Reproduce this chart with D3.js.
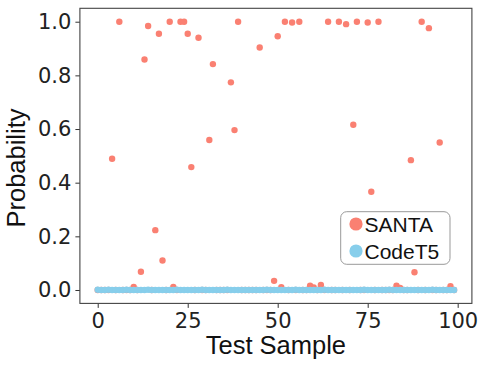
<!DOCTYPE html>
<html>
<head>
<meta charset="utf-8">
<script src="https://cdn.jsdelivr.net/npm/d3@7"></script>
<style>
  html, body { margin: 0; padding: 0; background: #fff; }
  svg { display: block; }
</style>
</head>
<body>
<svg id="chart" width="485" height="365"></svg>
<script>
// ---- data ----
const sampleIds = d3.range(100); // test sample indices 0..99
const santaValues = [
  0.000, 0.000, 0.000, 0.000, 0.489, 0.000, 1.000, 0.000, 0.000, 0.000,
  0.011, 0.000, 0.068, 0.859, 0.984, 0.000, 0.223, 0.955, 0.110, 0.000,
  1.000, 0.011, 0.000, 1.000, 1.000, 0.955, 0.458, 0.000, 0.940, 0.000,
  0.000, 0.559, 0.842, 0.000, 0.000, 0.000, 0.000, 0.774, 0.596, 1.000,
  0.000, 0.000, 0.000, 0.000, 0.000, 0.904, 0.000, 0.000, 0.000, 0.034,
  0.946, 0.010, 1.000, 0.000, 0.997, 0.000, 1.000, 0.000, 0.000, 0.016,
  0.009, 0.000, 0.019, 0.000, 1.000, 0.000, 0.000, 1.000, 0.000, 0.991,
  0.000, 0.616, 1.000, 0.000, 0.000, 0.997, 0.366, 0.000, 1.000, 0.000,
  0.000, 0.000, 0.000, 0.016, 0.008, 0.000, 0.000, 0.484, 0.066, 0.000,
  1.000, 0.000, 0.976, 0.000, 0.000, 0.550, 0.000, 0.000, 0.014, 0.000
];
const codet5Values = [
  0.001, 0.000, 0.000, 0.001, 0.000, 0.000, 0.000, 0.000, 0.001, 0.000,
  0.000, 0.000, 0.000, 0.000, 0.001, 0.000, 0.000, 0.000, 0.000, 0.000,
  0.000, 0.000, 0.001, 0.000, 0.000, 0.000, 0.000, 0.000, 0.000, 0.001,
  0.000, 0.000, 0.000, 0.000, 0.000, 0.000, 0.001, 0.000, 0.000, 0.000,
  0.000, 0.000, 0.000, 0.000, 0.000, 0.000, 0.000, 0.001, 0.000, 0.000,
  0.000, 0.000, 0.000, 0.000, 0.000, 0.001, 0.000, 0.000, 0.000, 0.000,
  0.000, 0.000, 0.000, 0.001, 0.000, 0.000, 0.000, 0.000, 0.000, 0.000,
  0.000, 0.000, 0.000, 0.000, 0.001, 0.000, 0.000, 0.000, 0.000, 0.000,
  0.000, 0.001, 0.000, 0.000, 0.000, 0.000, 0.000, 0.000, 0.000, 0.000,
  0.000, 0.000, 0.000, 0.001, 0.000, 0.000, 0.000, 0.000, 0.000, 0.000
];
const seriesNames = ["SANTA", "CodeT5"];
const seriesColors = ["#fa8072", "#87ceeb"];
const xTicks = [0, 25, 50, 75, 100];
const yTicks = [0.0, 0.2, 0.4, 0.6, 0.8, 1.0];
const xLabel = "Test Sample";
const yLabel = "Probability";

// ---- layout ----
const svg = d3.select("#chart");
const plotLeft = 79.9, plotRight = 471.9, plotTop = 8.3, plotBottom = 303.4;

const x = d3.scaleLinear().domain([-4.95, 103.95]).range([plotLeft, plotRight]);
const y = d3.scaleLinear().domain([-0.05, 1.05]).range([plotBottom, plotTop]);

const tickFont = "'DejaVu Sans', sans-serif";
const labelFont = "'Liberation Sans', Arial, sans-serif";

// points
const series = [santaValues, codet5Values];
series.forEach((vals, si) => {
  svg.append("g")
    .selectAll("circle")
    .data(vals.map((v, i) => ({ i: sampleIds[i], v })))
    .join("circle")
    .attr("cx", d => x(d.i))
    .attr("cy", d => y(d.v))
    .attr("r", 3.2)
    .attr("fill", seriesColors[si]);
});

// axes
const xAxis = d3.axisBottom(x).tickValues(xTicks).tickFormat(d3.format("d"))
  .tickSizeOuter(0).tickSizeInner(4.5).tickPadding(5);
const yAxis = d3.axisLeft(y).tickValues(yTicks).tickFormat(d3.format(".1f"))
  .tickSizeOuter(0).tickSizeInner(4.5).tickPadding(4);

const gx = svg.append("g").attr("transform", `translate(0,${plotBottom})`).call(xAxis);
const gy = svg.append("g").attr("transform", `translate(${plotLeft},0)`).call(yAxis);
[gx, gy].forEach(g => {
  g.select(".domain").remove();
  g.selectAll(".tick line").attr("stroke", "#333").attr("stroke-width", 1);
  g.selectAll(".tick text")
    .attr("fill", "#222")
    .style("font-family", tickFont)
    .style("font-size", "21px");
});

// frame
svg.append("rect")
  .attr("x", plotLeft).attr("y", plotTop)
  .attr("width", plotRight - plotLeft).attr("height", plotBottom - plotTop)
  .attr("fill", "none").attr("stroke", "#444").attr("stroke-width", 1.1);

// axis labels
svg.append("text")
  .attr("x", (plotLeft + plotRight) / 2).attr("y", 354)
  .attr("text-anchor", "middle")
  .style("font-family", labelFont).style("font-size", "25.5px")
  .attr("fill", "#111")
  .text(xLabel);

svg.append("text")
  .attr("transform", `translate(24.5,168) rotate(-90)`)
  .attr("text-anchor", "middle")
  .style("font-family", labelFont).style("font-size", "25.5px")
  .attr("fill", "#111")
  .text(yLabel);

// legend
const lg = svg.append("g");
lg.append("rect")
  .attr("x", 340.7).attr("y", 211.7)
  .attr("width", 109.3).attr("height", 52.6)
  .attr("rx", 6).attr("ry", 6)
  .attr("fill", "#fff").attr("fill-opacity", 0.85)
  .attr("stroke", "#999").attr("stroke-width", 1);
seriesNames.forEach((name, i) => {
  const cy = 224 + i * 27;
  lg.append("circle").attr("cx", 356).attr("cy", cy).attr("r", 6.6).attr("fill", seriesColors[i]);
  lg.append("text")
    .attr("x", 364.5).attr("y", cy + 7.6)
    .style("font-family", labelFont).style("font-size", "21px")
    .attr("fill", "#111")
    .text(name);
});
</script>
</body>
</html>
